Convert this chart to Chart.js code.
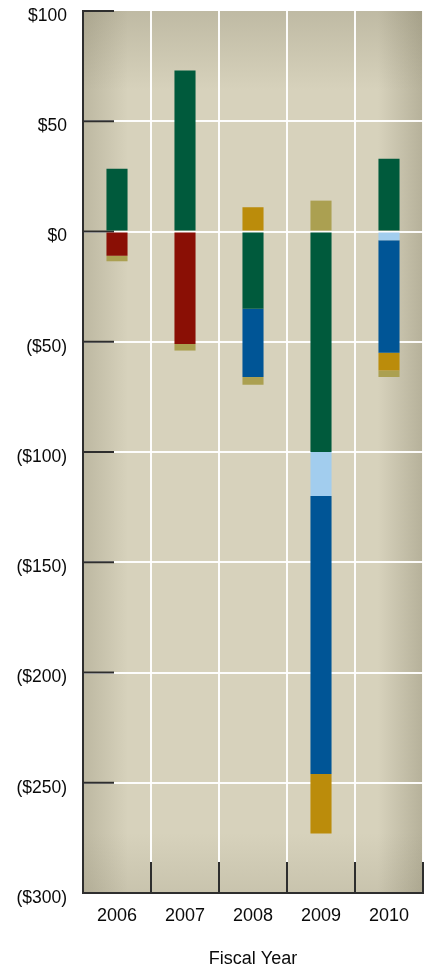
<!DOCTYPE html>
<html>
<head>
<meta charset="utf-8">
<script src="https://cdn.jsdelivr.net/npm/chart.js@4"></script>
<style>
  html, body { margin: 0; padding: 0; background: #ffffff; }
  #wrap { width: 431px; height: 970px; position: relative; }
</style>
</head>
<body>
<div id="wrap"><canvas id="c"></canvas></div>
<script>
// ---- data ----
const years = ['2006', '2007', '2008', '2009', '2010'];
const greenVals     = [28.5, 73, -35, -100, 33];
const redVals       = [-11, -51, null, null, null];
const lightBlueVals = [null, null, null, -20, -4];
const blueVals      = [null, null, -31, -126, -51];
const goldVals      = [null, null, 11, -27, -8];
const oliveVals     = [-2.5, -3, -3.5, 14, -3];
const yMin = -300, yMax = 100, yStep = 50;
const xTitle = 'Fiscal Year';

const FONT = '"Liberation Sans", Arial, Helvetica, sans-serif';
const TEXT = '#0a0a0a';
const AXIS = '#2e2e2e';

const bgPlugin = {
  id: 'bg',
  beforeDraw(chart) {
    const {ctx, chartArea: a} = chart;
    const w = a.right - a.left, h = a.bottom - a.top;
    ctx.save();
    ctx.fillStyle = '#d7d2bc';
    ctx.fillRect(a.left, a.top, w, h);
    const dark = (al) => `rgba(95,90,65,${al})`;
    let g = ctx.createLinearGradient(a.left, 0, a.left + 45, 0);
    g.addColorStop(0, dark(0.22)); g.addColorStop(1, dark(0));
    ctx.fillStyle = g; ctx.fillRect(a.left, a.top, 45, h);
    g = ctx.createLinearGradient(a.right, 0, a.right - 45, 0);
    g.addColorStop(0, dark(0.28)); g.addColorStop(1, dark(0));
    ctx.fillStyle = g; ctx.fillRect(a.right - 45, a.top, 45, h);
    g = ctx.createLinearGradient(0, a.top, 0, a.top + 80);
    g.addColorStop(0, dark(0.2)); g.addColorStop(1, dark(0));
    ctx.fillStyle = g; ctx.fillRect(a.left, a.top, w, 80);
    g = ctx.createLinearGradient(0, a.bottom, 0, a.bottom - 60);
    g.addColorStop(0, dark(0.12)); g.addColorStop(1, dark(0));
    ctx.fillStyle = g; ctx.fillRect(a.left, a.bottom - 60, w, 60);
    ctx.restore();
  }
};

const tickPlugin = {
  id: 'innerTicks',
  beforeDatasetsDraw(chart) {
    const {ctx, chartArea: a, scales} = chart;
    ctx.save();
    ctx.strokeStyle = AXIS;
    ctx.lineWidth = 2;
    scales.y.ticks.forEach(t => {
      const y = scales.y.getPixelForValue(t.value);
      ctx.beginPath(); ctx.moveTo(a.left, y); ctx.lineTo(a.left + 31, y); ctx.stroke();
    });
    const n = years.length;
    for (let i = 1; i <= n; i++) {
      const x = a.left + (a.right - a.left) * i / n;
      ctx.beginPath(); ctx.moveTo(x, a.bottom); ctx.lineTo(x, a.bottom - 31); ctx.stroke();
    }
    ctx.restore();
  }
};

const mk = (label, data, color) => ({
  label, data, backgroundColor: color, borderWidth: 0,
  barPercentage: 0.31, categoryPercentage: 1.0
});

new Chart(document.getElementById('c'), {
  type: 'bar',
  data: {
    labels: years,
    datasets: [
      mk('Green', greenVals, '#005a3c'),
      mk('Red', redVals, '#8a0f05'),
      mk('Light blue', lightBlueVals, '#a2cdee'),
      mk('Blue', blueVals, '#005596'),
      mk('Gold', goldVals, '#bb8c0b'),
      mk('Olive', oliveVals, '#aba051')
    ]
  },
  options: {
    responsive: true,
    maintainAspectRatio: false,
    animation: false,
    layout: { padding: { left: 0, right: 8, top: 11, bottom: 0 } },
    plugins: { legend: { display: false }, tooltip: { enabled: false } },
    scales: {
      x: {
        stacked: true,
        afterFit(s) { s.height = 77; },
        grid: {
          offset: true,
          drawTicks: false,
          lineWidth: 2,
          color: (c) => (c.index === 0 || c.index === years.length) ? 'rgba(0,0,0,0)' : 'rgba(255,255,255,0.95)'
        },
        border: { display: true, color: AXIS, width: 2 },
        ticks: { color: TEXT, padding: 12, font: { family: FONT, size: 18 } },
        title: {
          display: true, text: xTitle, color: TEXT,
          font: { family: FONT, size: 18 },
          padding: { top: 0, bottom: 0 }
        }
      },
      y: {
        stacked: true,
        min: yMin, max: yMax,
        afterFit(s) { s.width = 83; s.paddingTop = 0; s.paddingBottom = 0; },
        grid: {
          drawTicks: false,
          lineWidth: 2,
          color: (c) => (c.tick && c.tick.value === yMax) ? 'rgba(0,0,0,0)' : 'rgba(255,255,255,0.95)'
        },
        border: { display: true, color: AXIS, width: 2 },
        ticks: {
          stepSize: yStep,
          color: TEXT,
          padding: 16,
          labelOffset: 5,
          font: { family: FONT, size: 17.5 },
          callback: (v) => v < 0 ? '($' + (-v) + ')' : '$' + v
        }
      }
    }
  },
  plugins: [bgPlugin, tickPlugin]
});
</script>
</body>
</html>
